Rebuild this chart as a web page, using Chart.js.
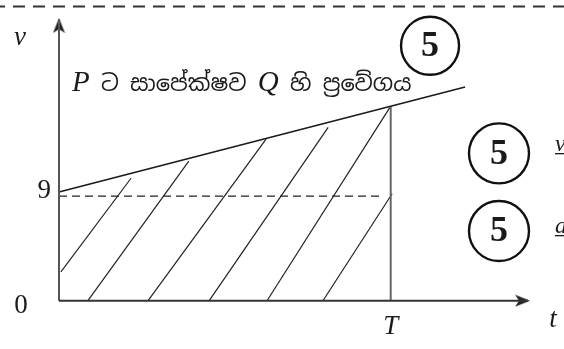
<!DOCTYPE html>
<html>
<head>
<meta charset="utf-8">
<script src="https://cdn.jsdelivr.net/npm/chart.js@4.4.1/dist/chart.umd.min.js"></script>
<style>
  html, body { margin: 0; padding: 0; background: #fff; }
  canvas { display: block; }
</style>
</head>
<body>
<canvas id="vt" width="564" height="349"></canvas>
<script>
// values of the v-t sketch (t and v in sketch units)
const T = 7
const vTicks = [0, 9]
const vTickLabels = ['0', '9']
const tTicks = [T]
const tTickLabels = ['T']

const relT = [0, 8.57]
const relV = [9.35, 18.37]

const tAxisEnd = 9.94
const vAxisEnd = 24.3
const dashEnd = 6.82

const hatchT0 = [0.04, 0.61, 1.88, 3.17, 4.39, 5.57]
const hatchV0 = [2.47, 0, 0, 0, 0, 0]
const hatchT1 = [1.52, 2.74, 4.37, 5.68, 6.98, 7.03]
const hatchV1 = [10.53, 12.01, 13.9, 14.9, 16.6, 9.2]

const markLabels = ['5', '5', '5']
const markT = [7.83, 9.285, 9.285]
const markV = [21.92, 12.67, 5.99]

const borderV = 25.3

const titleParts = [
  { text: 'P', latin: true },
  { text: ' ට සාපේක්ෂව ', latin: false },
  { text: 'Q', latin: true },
  { text: ' හි ප්‍රවේගය', latin: false },
]

// view window of the canvas
const tView = [-1.2451, 10.657]
const vView = [-4.153, 25.856]

const serif = '"Liberation Serif", "DejaVu Serif", serif'
const sinhala = '"Noto Sans Sinhala", "Noto Serif Sinhala", "Iskoola Pota", "Noto Sans", sans-serif'

// barbed arrow head, tip at the centre of the canvas
const makeArrow = () => {
  const c = document.createElement('canvas')
  c.width = 32
  c.height = 13
  const g = c.getContext('2d')
  g.fillStyle = '#222'
  g.beginPath()
  g.moveTo(16, 6.5)
  g.lineTo(1, 0.5)
  g.lineTo(5, 6.5)
  g.lineTo(1, 12.5)
  g.closePath()
  g.fill()
  return c
}
const arrow = makeArrow()

const seg = (t0, v0, t1, v1, color, width, dash) => ({
  type: 'scatter',
  showLine: true,
  data: [{ x: t0, y: v0 }, { x: t1, y: v1 }],
  borderColor: color,
  borderWidth: width,
  borderDash: dash || [],
  pointRadius: 0,
  clip: false,
})

const datasets = []
datasets.push(Object.assign(seg(tView[0], borderV, tView[1], borderV, '#333', 2, [12, 8]), { borderDashOffset: 7 }))
datasets.push(seg(0, 0, tAxisEnd - 0.05, 0, '#333', 2))
datasets.push(seg(0, 0, 0, vAxisEnd - 0.1, '#555', 2))
datasets.push(seg(relT[0], relV[0], relT[1], relV[1], '#1a1a1a', 1.6))
datasets.push(seg(0, vTicks[1], dashEnd, vTicks[1], '#222', 1.3, [8, 5]))
datasets.push(seg(T, 0, T, relV[0] + (relV[1] - relV[0]) * T / relT[1], '#666', 2))
hatchT0.forEach((t0, i) => {
  datasets.push(seg(t0, hatchV0[i], hatchT1[i], hatchV1[i], '#222', 1.2))
})
datasets.push({
  type: 'scatter',
  data: [{ x: tAxisEnd, y: 0 }, { x: 0, y: vAxisEnd }],
  pointStyle: arrow,
  pointRadius: 1,
  rotation: [0, -90],
  clip: false,
})
datasets.push({
  type: 'scatter',
  data: markT.map((t, i) => ({ x: t, y: markV[i] })),
  pointStyle: 'circle',
  pointRadius: [29, 30, 30],
  pointBorderWidth: 2.4,
  pointBorderColor: '#111',
  pointBackgroundColor: '#fff',
  clip: false,
})

const textPlugin = {
  id: 'sketchText',
  afterDatasetsDraw(chart) {
    const ctx = chart.ctx
    const xs = chart.scales.x
    const ys = chart.scales.y
    const px = (t) => xs.getPixelForValue(t)
    const py = (v) => ys.getPixelForValue(v)
    ctx.save()
    ctx.fillStyle = '#1a1a1a'

    // circled marks
    ctx.font = 'bold 36px ' + serif
    ctx.textAlign = 'center'
    ctx.textBaseline = 'middle'
    markLabels.forEach((m, i) => ctx.fillText(m, px(markT[i]), py(markV[i]) + 1))

    // tick labels
    ctx.font = '27px ' + serif
    ctx.textAlign = 'right'
    ctx.textBaseline = 'alphabetic'
    ctx.fillText(vTickLabels[1], px(0) - 8, py(vTicks[1]) + 2)
    ctx.textAlign = 'center'
    ctx.fillText(vTickLabels[0], px(0) - 38, py(vTicks[0]) + 12)
    ctx.font = 'italic 27px ' + serif
    ctx.fillText(tTickLabels[0], px(tTicks[0]), py(0) + 33)

    // axis names
    ctx.fillText('t', px(tAxisEnd) + 23, py(0) + 26)
    ctx.fillText('v', 20, py(vAxisEnd) + 27)

    // cut-off words at the right edge
    ctx.textAlign = 'left'
    ctx.font = 'italic 24px ' + serif
    ctx.fillText('v', 555, 151)
    ctx.fillText('a', 555, 233)
    ctx.fillRect(555, 153, 12, 1.3)
    ctx.fillRect(555, 235, 12, 1.3)

    // curve title
    let x = px(0) + 13
    const base = 91
    titleParts.forEach((p) => {
      ctx.font = p.latin ? 'italic 29px ' + serif : '22.5px ' + sinhala
      ctx.fillText(p.text, x, base)
      x += ctx.measureText(p.text).width
    })
    ctx.restore()
  },
}

new Chart(document.getElementById('vt'), {
  data: { datasets },
  options: {
    responsive: false,
    animation: false,
    devicePixelRatio: 1,
    layout: { padding: 0, autoPadding: false },
    plugins: { legend: { display: false }, tooltip: { enabled: false } },
    scales: {
      x: { type: 'linear', min: tView[0], max: tView[1], display: false },
      y: { type: 'linear', min: vView[0], max: vView[1], display: false },
    },
  },
  plugins: [textPlugin],
})
</script>
</body>
</html>
